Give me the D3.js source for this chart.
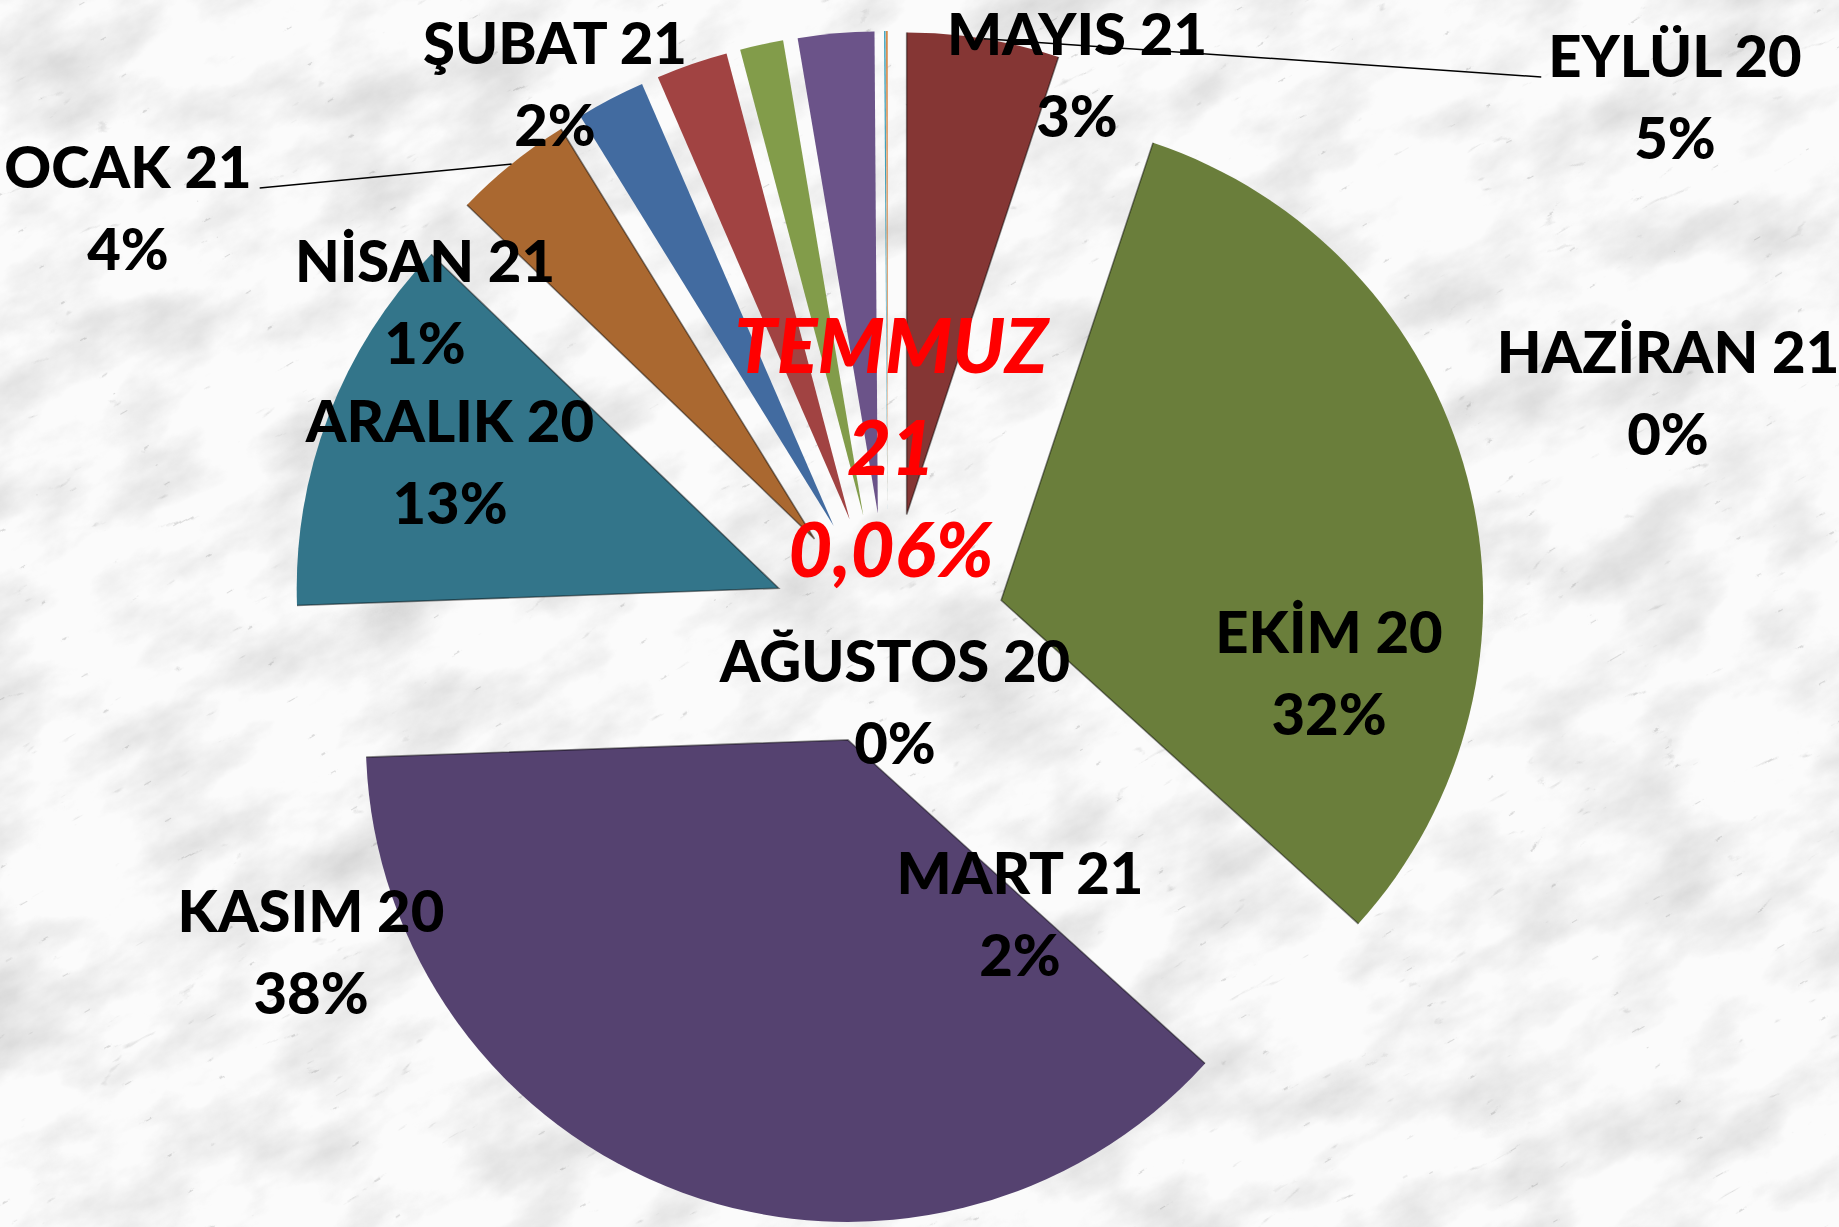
<!DOCTYPE html>
<html>
<head>
<meta charset="utf-8">
<script src="https://cdn.jsdelivr.net/npm/d3@7"></script>
<style>
html, body { margin: 0; padding: 0; background: #f1f1f1; overflow: hidden; }
svg { display: block; }
.lbl { font-family: Lato, "Open Sans", sans-serif; font-weight: 900; fill: #000; }
.hot { font-family: Lato, "Open Sans", sans-serif; font-weight: 900; font-style: italic; fill: #ff0000; }
</style>
</head>
<body>
<div id="main"></div>
<script>

var width = 1839,
    height = 1227;

// slices in clockwise order starting at 12 o'clock
var months = ["AĞUSTOS 20", "EYLÜL 20", "EKİM 20", "KASIM 20", "ARALIK 20", "OCAK 21",
              "ŞUBAT 21", "MART 21", "NİSAN 21", "MAYIS 21", "HAZİRAN 21", "TEMMUZ 21"];
var shares = [0, 5.1, 31.6, 37.7, 12.75, 4.0, 2.3, 2.4, 1.45, 2.55, 0.05, 0.06];
var colors = ["#2c4d75", "#853634", "#6a7e3b", "#554270", "#33758a", "#aa6830",
              "#426ba0", "#a14342", "#829c4a", "#6b5389", "#3ea0ba", "#d58a4c"];

// labels were dragged by hand in the original sheet: centre x, first baseline
var labelPos = [[895, 682], [1675, 77], [1329, 653], [311, 932], [450, 442], [128, 188],
                [555, 64], [1020, 894], [425, 282], [1077, 55], [1668, 373], [891, 373]];
var withLeader = ["EYLÜL 20", "OCAK 21"];
var highlight = "TEMMUZ 21";

var CX = 888, CY = 630, R = 482, EXPLODE = 117;
var LINE = 82, HOT_LINE = 102;

var data = months.map(function(m, i) { return {name: m, v: shares[i], color: colors[i], pos: labelPos[i]}; });
var total = d3.sum(shares);

var svg = d3.select("div#main").append("svg")
    .attr("width", width)
    .attr("height", height)
    .attr("viewBox", `0 0 ${width} ${height}`);

// marble paper background: soft grey clouds times thin veins
var defs = svg.append("defs");
var marble = defs.append("filter")
    .attr("id", "marble")
    .attr("filterUnits", "userSpaceOnUse")
    .attr("x", -700).attr("y", -700).attr("width", 3300).attr("height", 2700)
    .attr("color-interpolation-filters", "sRGB");
marble.append("feTurbulence")
    .attr("type", "fractalNoise")
    .attr("baseFrequency", "0.008 0.016")
    .attr("numOctaves", 6)
    .attr("seed", 3)
    .attr("result", "cloud0");
marble.append("feColorMatrix")
    .attr("in", "cloud0")
    .attr("type", "matrix")
    .attr("values", "0.28 0 0 0 0.84  0.28 0 0 0 0.84  0.28 0 0 0 0.84  0 0 0 0 1")
    .attr("result", "cloud");
marble.append("feTurbulence")
    .attr("type", "turbulence")
    .attr("baseFrequency", "0.006 0.024")
    .attr("numOctaves", 4)
    .attr("seed", 17)
    .attr("result", "vein0");
marble.append("feColorMatrix")
    .attr("in", "vein0")
    .attr("type", "matrix")
    .attr("values", "1.8 0 0 0 0.88  1.8 0 0 0 0.88  1.8 0 0 0 0.88  0 0 0 0 1")
    .attr("result", "vein");
marble.append("feBlend")
    .attr("in", "cloud")
    .attr("in2", "vein")
    .attr("mode", "multiply")
    .attr("result", "mix");
var ct = marble.append("feComponentTransfer").attr("in", "mix");
["feFuncR", "feFuncG", "feFuncB"].forEach(function(fn) {
    ct.append(fn).attr("type", "linear").attr("slope", 0.985);
});

svg.append("g")
    .attr("transform", `rotate(-30 ${width / 2} ${height / 2})`)
    .append("rect")
    .attr("x", -700).attr("y", -700)
    .attr("width", 3300).attr("height", 2700)
    .attr("filter", "url(#marble)");

var pie = d3.pie()
    .sort(null)
    .value(function(d) { return d.v; });

var arc = d3.arc().innerRadius(0).outerRadius(R);
var rim = d3.arc().innerRadius(R).outerRadius(R);
var mid = d3.arc().innerRadius(EXPLODE).outerRadius(EXPLODE);

var arcs = pie(data);

var chart = svg.append("g")
    .attr("transform", `translate(${CX},${CY})`);

var slice = chart.selectAll(".slice")
    .data(arcs)
    .enter().append("g")
    .attr("class", "slice")
    .attr("transform", function(d) { var c = mid.centroid(d); return `translate(${c[0]},${c[1]})`; });

slice.append("path")
    .attr("d", arc)
    .attr("fill", function(d) { return d.data.color; });

// darker straight edges, like the bevel in the original
slice.filter(function(d) { return d.data.v > 3; })
    .append("path")
    .attr("d", function(d) {
        var a0 = d.startAngle, a1 = d.endAngle;
        return `M${R * Math.sin(a0)},${-R * Math.cos(a0)}L0,0L${R * Math.sin(a1)},${-R * Math.cos(a1)}`;
    })
    .attr("fill", "none")
    .attr("stroke", "rgba(0,0,0,0.45)")
    .attr("stroke-width", 1.6);

var fmtHot = d3.format(".2f");

function pctText(d) {
    var p = d.data.v / total * 100;
    if (d.data.name == highlight) return fmtHot(p).replace(".", ",") + "%";
    return Math.round(p) + "%";
}

var labels = svg.append("g");

arcs.forEach(function(d) {
    var p = d.data.pos;
    if (d.data.name == highlight) {
        var parts = d.data.name.split(" ");
        var t = labels.append("text")
            .attr("class", "hot")
            .attr("text-anchor", "middle")
            .attr("font-size", 76);
        parts.concat([pctText(d)]).forEach(function(s, k) {
            t.append("tspan").attr("x", p[0]).attr("y", p[1] + k * HOT_LINE).text(s);
        });
        return;
    }
    var t = labels.append("text")
        .attr("class", "lbl")
        .attr("text-anchor", "middle")
        .attr("font-size", 58);
    var first = t.append("tspan").attr("x", p[0]).attr("y", p[1]).text(d.data.name);
    t.append("tspan").attr("x", p[0]).attr("y", p[1] + LINE).text(pctText(d));

    if (withLeader.indexOf(d.data.name) >= 0) {
        var c = rim.centroid(d), o = mid.centroid(d);
        var sx = CX + c[0] + o[0], sy = CY + c[1] + o[1];
        var w = first.node().getComputedTextLength();
        var ex = sx > p[0] ? p[0] + w / 2 + 8 : p[0] - w / 2 - 7;
        labels.append("line")
            .attr("x1", sx).attr("y1", sy)
            .attr("x2", ex).attr("y2", p[1])
            .attr("stroke", "#000")
            .attr("stroke-width", 1.5);
    }
});

</script>
</body>
</html>
